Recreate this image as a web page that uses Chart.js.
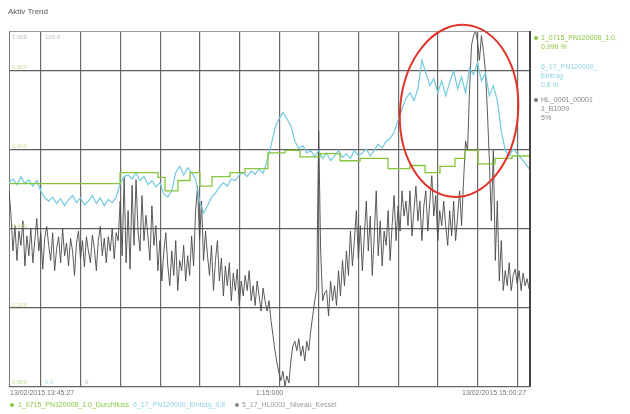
<!DOCTYPE html>
<html>
<head>
<meta charset="utf-8">
<script src="https://cdn.jsdelivr.net/npm/chart.js@4.4.1/dist/chart.umd.min.js"></script>
<style>
  body { margin: 0; background: #fff; }
  #wrap { position: relative; width: 630px; height: 414px; font-family: "Liberation Sans", "DejaVu Sans", Arial, sans-serif; }
  #wrap canvas { position: absolute; left: 0; top: 0; }
  .t { position: absolute; white-space: nowrap; font-size: 7px; line-height: 8px; }
  .dot { position: absolute; width: 4px; height: 4px; border-radius: 2px; }
</style>
</head>
<body>
<div id="wrap">
  <canvas id="c" width="630" height="414"></canvas>

  <div class="t" style="left:8px;top:8px;color:#555;font-size:8px;">Aktiv Trend</div>

  <!-- scale labels inside the plot -->
  <div class="t" style="left:12px;top:33px;color:#bbb;font-size:6px;">1.000</div>
  <div class="t" style="left:45px;top:33px;color:#bbb;font-size:6px;">100.0</div>
  <div class="t" style="left:12px;top:63px;color:#d4dc9a;font-size:6px;">0.800</div>
  <div class="t" style="left:12px;top:142px;color:#d4dc9a;font-size:6px;">0.600</div>
  <div class="t" style="left:12px;top:222px;color:#d4dc9a;font-size:6px;">0.400</div>
  <div class="t" style="left:12px;top:301px;color:#d4dc9a;font-size:6px;">0.200</div>
  <div class="t" style="left:12px;top:378px;color:#b9dc9a;font-size:6px;">0.000</div>
  <div class="t" style="left:45px;top:378px;color:#a6d8e6;font-size:6px;">0.0</div>
  <div class="t" style="left:85px;top:378px;color:#bbb;font-size:6px;">0</div>

  <!-- time axis labels -->
  <div class="t" style="left:10px;top:389px;color:#777;">13/02/2015 13:45:27</div>
  <div class="t" style="left:256px;top:389px;color:#777;">1:15:000</div>
  <div class="t" style="left:462px;top:389px;color:#777;">13/02/2015 15:00:27</div>

  <!-- right legend -->
  <div class="dot" style="left:534px;top:36px;background:#8cc63f;"></div>
  <div class="t" style="left:541px;top:34px;color:#8cc63f;">1_0715_PN120008_1.0,</div>
  <div class="t" style="left:541px;top:43px;color:#8cc63f;">0,999 %</div>
  <div class="t" style="left:541px;top:63px;color:#8fd3e3;">6_17_PN120000_</div>
  <div class="t" style="left:541px;top:72px;color:#8fd3e3;">Eintrag</div>
  <div class="t" style="left:541px;top:81px;color:#8fd3e3;">0,8 m</div>
  <div class="dot" style="left:534px;top:98px;background:#777;"></div>
  <div class="t" style="left:541px;top:96px;color:#888;">HL_0001_00001</div>
  <div class="t" style="left:541px;top:105px;color:#888;">1_B1009</div>
  <div class="t" style="left:541px;top:114px;color:#888;">5%</div>

  <!-- bottom legend -->
  <div class="dot" style="left:10px;top:403px;background:#8cc63f;"></div>
  <div class="t" style="left:18px;top:401px;color:#8cc63f;">1_0715_PN120008_1.0_Durchfluss</div>
  <div class="t" style="left:133px;top:401px;color:#8fd3e3;">6_17_PN120000_Eintrag_0,8</div>
  <div class="dot" style="left:235px;top:403px;background:#888;"></div>
  <div class="t" style="left:242px;top:401px;color:#999;">5_17_HL0001_Niveau_Kessel</div>
</div>

<script>
// time base: seconds since 13:45:27
const T_END = 3937;
const GRID_T0 = 242;      // first vertical grid line
const GRID_STEP = 300;    // 5 minutes per grid column
const Y_TICKS = [0, 100, 200, 300, 400];

// level signal, one sample every 15 s
const levelStep = 15;
const levelValues = [
  248, 217, 172, 204, 160, 197, 179, 210, 153, 191,
  166, 200, 157, 185, 213, 172, 195, 149, 188, 203,
  179, 160, 195, 147, 175, 190, 157, 200, 166, 182,
  153, 188, 172, 141, 182, 197, 162, 185, 152, 190,
  172, 157, 192, 175, 147, 185, 203, 166, 188, 157,
  190, 172, 200, 162, 195, 185, 235, 166, 265, 157,
  223, 149, 255, 179, 262, 197, 172, 242, 185, 217,
  190, 160, 229, 179, 204, 147, 185, 134, 172, 195,
  153, 128, 172, 141, 185, 122, 160, 147, 179, 134,
  166, 141, 191, 153, 223, 254, 185, 235, 160, 197,
  166, 141, 179, 122, 160, 185, 134, 163, 115, 153,
  128, 157, 109, 144, 122, 149, 103, 134, 115, 141,
  122, 147, 109, 128, 103, 134, 115, 96, 125, 109,
  96, 109, 84, 65, 46, 30, 18, 8, 20, 1,
  14, 5, 33, 52, 58, 46, 61, 39, 52, 33,
  58, 46, 71, 90, 109, 124, 324, 172, 109, 119,
  122, 90, 134, 109, 128, 103, 147, 115, 160, 128,
  172, 141, 197, 153, 185, 223, 162, 204, 147, 191,
  235, 172, 216, 141, 191, 248, 166, 210, 153, 197,
  179, 223, 160, 204, 242, 185, 229, 197, 248, 216,
  235, 204, 248, 191, 223, 254, 210, 235, 185, 229,
  248, 197, 235, 267, 216, 242, 185, 223, 204, 235,
  204, 179, 223, 191, 235, 185, 216, 248, 204, 261,
  311, 299, 375, 432, 444, 450, 438, 413, 444, 425,
  400, 349, 286, 210, 299, 160, 235, 134, 185, 122,
  147, 128, 157, 122, 141, 149, 131, 147, 122, 144, 128, 137, 124
];

// inflow signal, one sample every 30 s
const inflowStep = 30;
const inflowValues = [
  258, 263, 256, 266, 257, 262, 254, 261, 248, 239,
  235, 240, 232, 238, 229, 237, 242, 233, 239, 230,
  235, 242, 232, 239, 229, 237, 233, 240, 257, 266,
  268, 263, 271, 261, 266, 256, 261, 253, 258, 244,
  240, 248, 271, 279, 268, 277, 271, 263, 235, 220,
  229, 240, 245, 253, 258, 254, 263, 261, 268, 271,
  266, 273, 269, 275, 270, 286, 305, 327, 339, 347,
  339, 330, 311, 301, 305, 296, 299, 291, 299, 289,
  296, 286, 292, 299, 290, 295, 289, 299, 292, 296,
  301, 292, 299, 307, 302, 311, 314, 322, 337, 352,
  365, 372, 362, 377, 413, 397, 381, 390, 372, 387,
  368, 385, 400, 377, 392, 372, 403, 395, 410, 387,
  397, 368, 381, 362, 324, 299, 292, 301, 295, 289,
  283, 276
];

// flow set value, held between changes
const flowTimes  = [0, 839, 1126, 1179, 1277, 1368, 1443, 1534, 1670, 1783, 1957, 2086, 2199, 2350, 2501, 2653, 2864, 3030, 3144, 3257, 3370, 3446, 3544, 3673, 3801, 3937];
const flowValues = [257, 271, 265, 248, 261, 271, 254, 266, 271, 276, 296, 299, 291, 295, 286, 289, 276, 280, 271, 279, 289, 299, 282, 289, 292, 292];

// highlighted region (time, value, half-width in s, half-height in value units)
const markTime = 3401, markValue = 349, markHalfT = 446, markHalfV = 109;

const toPoints = (vals, step) => vals.map((v, i) => ({ x: i * step, y: v }));
const flowPoints = flowTimes.map((t, i) => ({ x: t, y: flowValues[i] }));

const frame = {
  id: 'frame',
  afterDatasetsDraw(chart) {
    const { ctx, chartArea: a } = chart;
    ctx.save();
    ctx.strokeStyle = '#9a9a9a';
    ctx.lineWidth = 1;
    ctx.beginPath();
    ctx.moveTo(a.left, a.top + 0.5);
    ctx.lineTo(a.right, a.top + 0.5);
    ctx.stroke();
    ctx.strokeStyle = '#444';
    ctx.lineWidth = 2;
    ctx.beginPath();
    ctx.moveTo(a.right, a.top);
    ctx.lineTo(a.right, a.bottom);
    ctx.stroke();
    ctx.strokeStyle = '#666';
    ctx.lineWidth = 1;
    ctx.beginPath();
    ctx.moveTo(a.left, a.bottom - 0.5);
    ctx.lineTo(a.right, a.bottom - 0.5);
    ctx.stroke();
    ctx.restore();
  },
  afterDraw(chart) {
    const { ctx } = chart;
    const xs = chart.scales.x, ys = chart.scales.y;
    const cx = xs.getPixelForValue(markTime);
    const cy = ys.getPixelForValue(markValue);
    const rx = xs.getPixelForValue(markTime + markHalfT) - cx;
    const ry = cy - ys.getPixelForValue(markValue + markHalfV);
    ctx.save();
    ctx.strokeStyle = '#e0342c';
    ctx.lineWidth = 2;
    ctx.beginPath();
    ctx.ellipse(cx, cy, rx, ry, 0.08, 0, Math.PI * 2);
    ctx.stroke();
    ctx.restore();
  }
};

new Chart(document.getElementById('c'), {
  type: 'line',
  data: {
    datasets: [
      { data: flowPoints, borderColor: '#86c440', borderWidth: 1.3, stepped: true, pointRadius: 0 },
      { data: toPoints(inflowValues, inflowStep), borderColor: '#72c9de', borderWidth: 1.2, pointRadius: 0 },
      { data: toPoints(levelValues, levelStep), borderColor: '#4a4a4a', borderWidth: 0.9, pointRadius: 0 }
    ]
  },
  options: {
    responsive: false,
    animation: false,
    events: [],
    layout: { padding: { left: 9, top: 31, right: 100, bottom: 27 } },
    plugins: { legend: { display: false }, title: { display: false }, tooltip: { enabled: false } },
    scales: {
      x: {
        type: 'linear', min: 0, max: T_END,
        afterFit: s => { s.height = 0; },
        afterBuildTicks: s => {
          const ticks = [];
          for (let t = GRID_T0; t < T_END; t += GRID_STEP) ticks.push({ value: t });
          s.ticks = ticks;
        },
        ticks: { display: false },
        grid: { color: '#6a6a6a', lineWidth: 1.2, drawTicks: false },
        border: { display: false }
      },
      y: {
        min: 0, max: 450,
        afterFit: s => { s.width = 0; },
        afterBuildTicks: s => { s.ticks = Y_TICKS.map(v => ({ value: v })); },
        ticks: { display: false },
        grid: { color: '#5e5e5e', lineWidth: 1.2, drawTicks: false },
        border: { display: true, color: '#777', width: 1 }
      }
    }
  },
  plugins: [frame]
});
</script>
</body>
</html>
